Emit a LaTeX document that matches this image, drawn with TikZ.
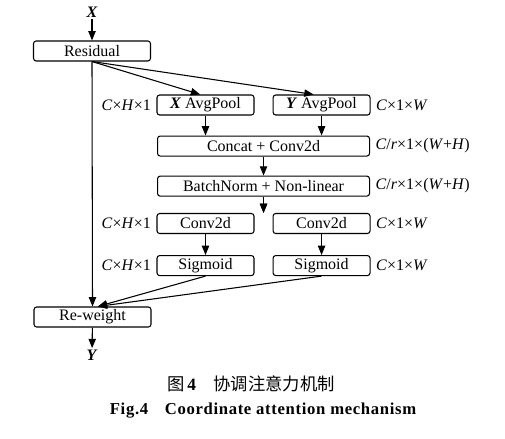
\documentclass[tikz,border=0pt]{standalone}
\usepackage{fontspec}
\setmainfont{Liberation Serif}
\newfontfamily\cjkfont{Noto Sans CJK SC}
\usepackage{tikz}
\usetikzlibrary{arrows.meta, positioning, calc}

\begin{document}
\begin{tikzpicture}[
  x=0.75pt, y=-0.75pt,
  box/.style  = {draw, rounded corners=2pt, minimum height=15pt, inner sep=1pt,
                 font=\fontsize{12}{14}\selectfont, line width=0.8pt},
  half/.style = {box, minimum width=72.75pt},
  wide/.style = {box, minimum width=159pt},
  side/.style = {box, minimum width=87.75pt},
  lab/.style  = {font=\fontsize{12}{14}\selectfont, inner sep=1pt},
  arr/.style  = {-{Triangle[length=7pt,width=5.5pt]}, line width=0.8pt},
  node distance = 15pt
]
\useasboundingbox (0,0) rectangle (505,438);

\node[box, side]                          (res)   at (92,51) {Residual};
\node[half]                               (xpool) at (205.5,105) {\textbf{\textit{X}} AvgPool};
\node[half, right=13.5pt of xpool]        (ypool) {\textbf{\textit{Y}} AvgPool};
\node[wide, below=15pt of $(xpool.south)!0.5!(ypool.south)$] (cat) {Concat + Conv2d};
\node[wide, below=14.25pt of cat]         (bn)    {BatchNorm + Non-linear};
\node[half]                               (conva) at (205.5,223.5) {Conv2d};
\node[half, right=13.5pt of conva]        (convb) {Conv2d};
\node[half, below=15.75pt of conva]       (siga)  {Sigmoid};
\node[half, below=15.75pt of convb]       (sigb)  {Sigmoid};
\node[box, side]                          (rw)    at (92.5,317) {Re-weight};

\node[lab] (xin)  at (92,12)  {\textbf{\textit{X}}};
\node[lab] (yout) at (92,355) {\textbf{\textit{Y}}};
\coordinate (rwin) at ([xshift=4pt]rw.north);

\draw[arr] (xin) -- (res);
\draw[arr] (rw) -- (yout);
\draw[arr] (res.south) -- (rw.north);
\draw[arr] (res.south) -- ([xshift=-4pt]xpool.north);
\draw[arr] (res.south) -- ([xshift=-6pt]ypool.north);
\draw[arr] (siga.south) -- (rwin);
\draw[arr] (sigb.south) -- (rwin);
\draw[arr] (cat) -- (bn);
\foreach \a/\b in {xpool/cat, ypool/cat, bn/conva, bn/convb}
  \draw[arr] (\a.south) -- (\a.south |- \b.north);
\foreach \a/\b in {conva/siga, convb/sigb}
  \draw[arr] (\a) -- (\b);

\node[lab, left=3pt of xpool]  {\textit{C}×\textit{H}×1};
\node[lab, left=3pt of conva]  {\textit{C}×\textit{H}×1};
\node[lab, left=3pt of siga]   {\textit{C}×\textit{H}×1};
\node[lab, right=3pt of ypool] {\textit{C}×1×\textit{W}};
\node[lab, right=3pt of cat]   {\textit{C}/\textit{r}×1×(\textit{W}+\textit{H})};
\node[lab, right=3pt of bn]    {\textit{C}/\textit{r}×1×(\textit{W}+\textit{H})};
\node[lab, right=3pt of convb] {\textit{C}×1×\textit{W}};
\node[lab, right=3pt of sigb]  {\textit{C}×1×\textit{W}};

\node[font=\fontsize{13}{15}\selectfont] (capcn) at (251,384)
  {{\cjkfont 图}\,\textbf{4}\quad{\cjkfont 协调注意力机制}};
\node[font=\fontsize{12.5}{15}\selectfont\bfseries] (capen) at (263,411)
  {\addfontfeature{LetterSpace=4}Fig.4\quad Coordinate attention mechanism};
\end{tikzpicture}
\end{document}
